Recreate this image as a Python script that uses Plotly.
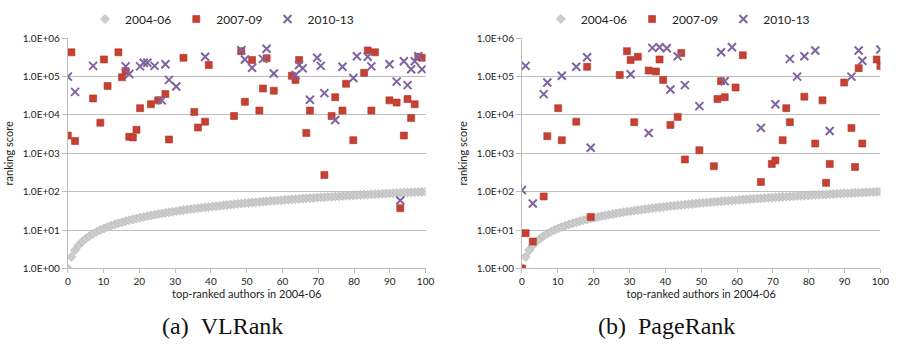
import plotly.graph_objects as go

# ---------------- data ----------------
# index of author in 2004-06 top-100 list (0 = top-ranked)
base_idx = list(range(100))
base_score = list(range(1, 101))          # 2004-06 ranking score (= rank)

# (a) VLRank
vl_0709_idx = [0, 1, 2, 7, 9, 10, 11, 14, 15, 16, 17, 18, 19, 20, 23, 25, 27, 28, 32, 35,
               36, 38, 39, 46, 48, 49, 51, 53, 54, 55, 57, 62, 63, 64, 66, 67, 71, 73, 74, 76,
               77, 79, 82, 83, 84, 85, 89, 91, 92, 93, 94, 95, 96, 97, 98]
vl_0709_val = [2900, 430000, 2100, 27000, 6300, 280000, 57000, 430000, 96000, 140000,
               2700, 2600, 4100, 15000, 19000, 24000, 35000, 2300, 310000, 12000,
               4700, 6700, 200000, 9400, 460000, 22000, 270000, 13000, 49000, 300000,
               43000, 105000, 82000, 270000, 3400, 13000, 270, 9400, 29000, 13000,
               65000, 2200, 126000, 480000, 13000, 430000, 24000, 21000, 37, 2900,
               26000, 8300, 19000, 330000, 310000]
vl_1013_idx = [0, 2, 7, 16, 17, 20, 21, 22, 24, 26, 27, 28, 30, 38, 48, 49, 51, 54, 55, 57,
               63, 64, 65, 67, 69, 70, 71, 74, 76, 79, 80, 83, 84, 89, 91, 92, 93, 94, 95, 96,
               97, 98]
vl_1013_val = [100000, 40000, 190000, 185000, 117000, 185000, 230000, 230000, 190000, 24000,
               210000, 82000, 55000, 330000, 490000, 280000, 170000, 290000, 530000, 120000,
               110000, 200000, 165000, 25000, 310000, 190000, 37000, 7400, 180000, 92000,
               340000, 330000, 185000, 210000, 74000, 59, 250000, 60000, 155000, 250000,
               340000, 155000]

# (b) PageRank
pr_0709_idx = [0, 1, 3, 6, 7, 10, 11, 15, 18, 19, 27, 29, 30, 31, 32, 35, 37, 38, 39, 41,
               43, 44, 45, 49, 53, 54, 55, 56, 59, 61, 66, 69, 70, 72, 73, 74, 78, 81, 83, 84,
               85, 89, 91, 92, 93, 94, 98, 99]
pr_0709_val = [1.0, 8.3, 5.0, 75, 2800, 15000, 2200, 6700, 180000, 22,
               110000, 460000, 270000, 6500, 330000, 144000, 136000, 280000, 82000, 5500,
               8900, 410000, 690, 1200, 460, 26000, 76000, 29000, 52000, 360000,
               180, 530, 650, 2200, 15000, 6500, 30000, 1800, 24000, 170,
               530, 70000, 4600, 440, 166000, 1800, 280000, 190000]
pr_1013_idx = [0, 1, 3, 6, 7, 11, 15, 18, 19, 30, 35, 36, 38, 40, 41, 43, 45, 49, 55, 56,
               58, 66, 70, 74, 76, 78, 81, 85, 91, 93, 94, 99]
pr_1013_val = [110, 190000, 49, 35000, 70000, 105000, 180000, 320000, 1400, 115000,
               3400, 560000, 580000, 550000, 46000, 340000, 60000, 17000, 430000, 76000,
               580000, 4600, 19000, 290000, 100000, 340000, 480000, 3800, 100000, 480000,
               260000, 510000]

series_names = ["2004-06", "2007-09", "2010-13"]
y_tickvals = [1, 10, 100, 1000, 10000, 100000, 1000000]
y_ticktext = ["1.0E+00", "1.0E+01", "1.0E+02", "1.0E+03", "1.0E+04", "1.0E+05", "1.0E+06"]
x_tickvals = [0, 10, 20, 30, 40, 50, 60, 70, 80, 90, 100]
captions = ["(a)\u2002VLRank", "(b)\u2002PageRank"]


def xpos(idx):
    # 100 authors spread evenly over the 0..100 axis
    return [i * 100 / 99 for i in idx]


# ---------------- figure ----------------
W, H = 897, 346
GRAY = "#cdcdcd"
RED = "#c8402f"
PURPLE = "#8064A2"
GRID = "#bdbdbd"
FONT = "Lato"

fig = go.Figure()

panels = [
    ("x", "y", "legend", vl_0709_idx, vl_0709_val, vl_1013_idx, vl_1013_val),
    ("x2", "y2", "legend2", pr_0709_idx, pr_0709_val, pr_1013_idx, pr_1013_val),
]
for xa, ya, lg, r_idx, r_val, p_idx, p_val in panels:
    fig.add_trace(go.Scatter(
        x=xpos(base_idx), y=base_score, mode="markers", name=series_names[0],
        xaxis=xa, yaxis=ya, legend=lg,
        marker=dict(symbol="diamond", size=7, color=GRAY, line=dict(color="#b0b0b0", width=0.6))))
    fig.add_trace(go.Scatter(
        x=xpos(r_idx), y=r_val, mode="markers", name=series_names[1],
        xaxis=xa, yaxis=ya, legend=lg,
        marker=dict(symbol="square", size=7, color=RED, line=dict(color="#a9362f", width=0.6))))
    fig.add_trace(go.Scatter(
        x=xpos(p_idx), y=p_val, mode="markers", name=series_names[2],
        xaxis=xa, yaxis=ya, legend=lg,
        marker=dict(symbol="x-thin", size=8, color=PURPLE, line=dict(color=PURPLE, width=2))))

yd = [1 - 271 / H, 1 - 33.3 / H]
xdoms = [[65.7 / W, 428.3 / W], [526 / W, 889.3 / W]]

axis_font = dict(family=FONT, size=10, color="#222")
for k, (xa, ya) in enumerate([("xaxis", "yaxis"), ("xaxis2", "yaxis2")]):
    xanchor = "y" if k == 0 else "y2"
    yanchor = "x" if k == 0 else "x2"
    fig.layout[xa] = dict(
        domain=xdoms[k], anchor=xanchor, range=[0, 100], tickvals=x_tickvals,
        showgrid=False, zeroline=False, showline=True, linecolor=GRID, linewidth=1,
        ticks="outside", ticklen=4, tickcolor=GRID, tickfont=axis_font,
        title=dict(text="top-ranked authors in 2004-06", font=dict(family=FONT, size=11, color="#222"),
                   standoff=3))
    fig.layout[ya] = dict(
        domain=yd, anchor=yanchor, type="log", range=[0, 6],
        tickvals=y_tickvals, ticktext=y_ticktext,
        showgrid=True, gridcolor=GRID, gridwidth=1, zeroline=False,
        showline=True, linecolor=GRID, linewidth=1,
        ticks="outside", ticklen=5, tickcolor=GRID, tickfont=axis_font,
        title=dict(text="ranking score", font=dict(family=FONT, size=11, color="#222"), standoff=6))

leg_common = dict(orientation="h", yanchor="middle", y=1 - 13.5 / H, xanchor="center",
                  font=dict(family=FONT, size=12, color="#222"), bgcolor="rgba(0,0,0,0)",
                  itemwidth=30, tracegroupgap=0)
fig.update_layout(
    width=W, height=H, margin=dict(l=0, r=0, t=0, b=0),
    plot_bgcolor="white", paper_bgcolor="white",
    legend=dict(x=222 / W, **leg_common),
    legend2=dict(x=684 / W, **leg_common),
)

for cx, txt in zip([222, 672], captions):
    fig.add_annotation(x=cx / W, y=1 - 331 / H, xref="paper", yref="paper",
                       text=txt, showarrow=False, xanchor="center", yanchor="middle",
                       font=dict(family="Liberation Serif", size=24, color="#111"))

fig.write_html("out.html")
